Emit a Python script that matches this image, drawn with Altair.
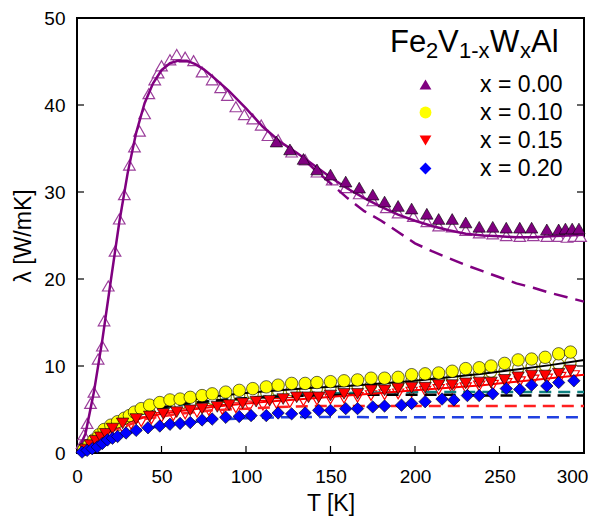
import altair as alt
import pandas as pd

# ---------------- data ----------------
series_names = ["x = 0.00", "x = 0.10", "x = 0.15", "x = 0.20"]
fill_colors = ["#800080", "#ffff00", "#ff0000", "#0000ff"]
shapes = ["triangle-up", "circle", "triangle-down", "diamond"]

# x = 0.00, open triangles (full range)
T_o00 = [3, 4, 6, 8, 10, 12.5, 15, 16, 18.5, 22.5, 25, 28, 31, 34, 37, 40, 42.5, 46, 48, 50,
         55, 59, 64, 69, 74, 80, 85, 89, 94, 99, 104, 109, 113, 119, 127, 135, 142, 151, 159,
         167, 175, 183, 190, 199, 207, 214, 222, 230, 238, 246, 254, 262, 270, 278, 285, 290, 294, 298]
L_o00 = [1.1, 2.1, 3.4, 5.7, 7.0, 10.8, 12.3, 15.2, 19.2, 23.2, 26.9, 29.7, 33.1, 35.2, 37.0,
         39.0, 41.3, 42.9, 43.7, 44.5, 45.2, 45.8, 45.5, 45.1, 43.8, 42.9, 42.0, 41.1, 39.8,
         38.9, 38.4, 37.7, 36.5, 36.0, 34.6, 33.7, 32.3, 31.4, 30.5, 29.8, 29.0, 28.2, 27.6,
         27.2, 26.6, 26.1, 26.0, 25.6, 25.3, 25.2, 25.0, 24.9, 25.0, 24.9, 24.9, 24.8, 24.9, 24.9]
# x = 0.00, filled triangles
T_f00 = [118, 126, 134, 142, 150, 159, 167, 175, 182, 190, 198, 207, 214, 222, 230, 238, 246,
         254, 262, 269, 278, 285, 289, 293, 297]
L_f00 = [35.8, 34.9, 33.8, 32.6, 32.0, 31.2, 30.5, 29.7, 28.9, 28.4, 28.1, 27.5, 26.9, 26.9,
         26.5, 26.0, 26.0, 25.9, 25.9, 25.9, 25.7, 25.7, 25.8, 25.8, 25.8]

# x = 0.10, filled circles
T_f10 = [4, 7, 10, 13, 16, 20, 24, 28, 31, 34, 38, 43, 49, 55, 61, 67, 74, 80, 88, 96, 104, 112,
         119, 127, 135, 142, 150, 158, 166, 174, 182, 190, 198, 206, 214, 222, 230, 238, 245,
         253, 261, 269, 277, 285, 292]
L_f10 = [0.4, 0.9, 1.5, 2.1, 2.7, 3.2, 3.6, 4.0, 4.3, 4.7, 5.1, 5.5, 5.8, 6.1, 6.2, 6.4, 6.6,
         6.8, 7.0, 7.2, 7.4, 7.6, 7.8, 8.0, 8.0, 8.1, 8.2, 8.3, 8.4, 8.6, 8.6, 8.7, 9.0, 9.1,
         9.2, 9.4, 9.7, 9.8, 10.0, 10.3, 10.7, 10.8, 11.0, 11.4, 11.6]
# x = 0.10, open circles
T_o10 = [20, 24, 28, 31, 34, 38, 43, 49, 55, 61, 67, 74, 80, 88, 96, 104, 112, 119, 127, 135,
         142, 150, 158, 166, 174, 182, 190, 198, 206, 214, 222, 230, 238, 245, 253, 261, 269,
         277, 285, 292]
L_o10 = [2.8, 3.2, 3.6, 3.9, 4.2, 4.5, 4.8, 5.1, 5.4, 5.6, 5.8, 6.0, 6.2, 6.4, 6.6, 6.8, 6.9,
         7.1, 7.2, 7.3, 7.4, 7.5, 7.6, 7.7, 7.8, 7.9, 8.0, 8.3, 8.4, 8.5, 8.7, 8.9, 9.1, 9.3,
         9.4, 9.7, 9.9, 10.0, 10.2, 10.4]

# x = 0.15, filled down-triangles
T_f15 = [5, 8, 11, 14, 17, 21, 27, 35, 43, 51, 59, 67, 74, 83, 90, 98, 106, 114, 122, 130, 137,
         143, 150, 158, 166, 174, 182, 190, 198, 206, 214, 222, 230, 238, 245, 253, 261, 269,
         277, 285, 292]
L_f15 = [0.4, 0.9, 1.4, 1.8, 2.2, 2.8, 3.4, 3.9, 4.2, 4.5, 4.7, 4.9, 5.1, 5.3, 5.5, 5.7, 5.9,
         6.0, 6.2, 6.4, 6.4, 6.4, 6.6, 6.8, 6.8, 7.2, 7.2, 7.4, 7.5, 7.5, 7.8, 7.8, 8.0, 8.1,
         8.1, 8.4, 8.7, 8.9, 8.9, 9.1, 9.5]
# x = 0.15, open down-triangles
T_o15 = [10, 14, 18, 22, 27, 32, 38, 44, 50, 57, 64, 71, 78, 86, 94, 102, 110, 118, 126, 134,
         142, 150, 158, 166, 174, 182, 190, 198, 206, 214, 222, 230, 238, 246, 254, 262, 270,
         278, 286, 294]
L_o15 = [1.0, 1.5, 2.0, 2.5, 2.9, 3.3, 3.6, 3.9, 4.1, 4.3, 4.5, 4.7, 4.9, 5.0, 5.2, 5.4, 5.5,
         5.7, 5.8, 6.0, 6.1, 6.2, 6.3, 6.4, 6.6, 6.7, 6.8, 7.0, 7.1, 7.3, 7.4, 7.5, 7.7, 7.8,
         8.0, 8.2, 8.4, 8.5, 8.7, 8.9]

# x = 0.20, filled diamonds
T_f20 = [3, 6, 9, 12, 15, 18, 21, 24, 29, 35, 42, 49, 55, 61, 67, 74, 80, 88, 96, 103, 112,
         119, 127, 135, 143, 150, 159, 166, 175, 182, 192, 198, 206, 216, 223, 231, 238, 246,
         254, 262, 269, 278, 285, 294]
L_f20 = [0.1, 0.3, 0.5, 0.7, 1.1, 1.5, 1.7, 1.9, 2.3, 2.6, 2.9, 3.1, 3.3, 3.4, 3.5, 3.8, 3.9,
         4.1, 4.2, 4.3, 4.3, 4.6, 4.5, 4.6, 4.9, 4.9, 5.1, 5.1, 5.3, 5.4, 5.5, 5.7, 5.9, 6.2,
         6.1, 6.6, 6.6, 6.8, 7.4, 7.3, 7.8, 7.7, 8.1, 8.3]

# model curves
T_fit00 = [0, 5, 10, 15, 20, 25, 30, 35, 40, 45, 50, 55, 60, 65, 70, 75, 80, 90, 100, 110, 120,
           130, 140, 150, 160, 170, 180, 190, 200, 210, 220, 230, 240, 250, 260, 270, 280, 290, 300]
L_fit00 = [0, 2.2, 7.0, 13.0, 19.8, 26.5, 32.2, 36.8, 40.2, 42.5, 44.0, 44.8, 45.1, 45.1, 44.7,
           44.1, 43.3, 41.6, 39.6, 37.5, 35.8, 34.5, 33.1, 31.7, 30.4, 29.3, 28.3, 27.4, 26.7,
           26.1, 25.6, 25.2, 25.0, 24.9, 24.8, 24.8, 24.9, 25.0, 25.1]
T_ph00 = [135, 140, 150, 160, 170, 180, 190, 200, 210, 220, 230, 240, 250, 260, 270, 280, 290, 300]
L_ph00 = [33.6, 32.7, 31.0, 29.3, 27.8, 26.7, 25.4, 24.1, 23.2, 22.4, 21.6, 20.9, 20.2, 19.5,
          19.0, 18.4, 17.9, 17.4]

T_fit10 = [0, 10, 20, 30, 40, 50, 60, 80, 100, 120, 140, 160, 180, 200, 220, 240, 260, 280, 300]
L_fit10 = [0, 1.3, 3.0, 4.2, 5.0, 5.6, 6.0, 6.5, 6.9, 7.2, 7.5, 7.7, 8.0, 8.3, 8.7, 9.1, 9.6, 10.1, 10.7]
T_ph10 = [0, 20, 40, 60, 80, 100, 120, 140, 160, 180, 200, 220, 240, 260, 280, 300]
L_ph10 = [0, 3.0, 4.8, 5.6, 6.0, 6.3, 6.5, 6.6, 6.7, 6.7, 6.7, 6.7, 6.6, 6.6, 6.6, 6.6]
T_tl10 = [0, 20, 40, 60, 80, 100, 120, 140, 160, 200, 250, 300]
L_tl10 = [0, 2.8, 4.6, 5.5, 6.0, 6.3, 6.6, 6.8, 6.9, 7.0, 7.0, 7.0]

T_fit15 = [0, 10, 20, 30, 40, 50, 60, 80, 100, 120, 140, 160, 180, 200, 220, 240, 260, 280, 300]
L_fit15 = [0, 1.2, 2.6, 3.5, 4.1, 4.5, 4.8, 5.3, 5.7, 6.0, 6.3, 6.6, 6.9, 7.2, 7.5, 7.8, 8.2, 8.6, 9.0]
T_ph15 = [0, 20, 40, 60, 80, 100, 120, 140, 200, 250, 300]
L_ph15 = [0, 2.5, 3.9, 4.5, 4.9, 5.1, 5.3, 5.4, 5.4, 5.4, 5.4]

T_ph20 = [0, 20, 40, 60, 80, 100, 120, 140, 200, 250, 300]
L_ph20 = [0, 1.7, 2.8, 3.4, 3.8, 4.0, 4.1, 4.15, 4.1, 4.1, 4.1]

x_ticks = [50, 100, 150, 200, 250]
y_ticks = [10, 20, 30, 40]

# ---------------- chart ----------------
W, H = 507, 435
PAD_T, PAD_L = 10, 69
TOTAL_W, TOTAL_H = 580, 511   # page area inside the 8px body margin
FONT = "Liberation Sans"

xs = alt.Scale(domain=[0, 300], nice=False)
ys = alt.Scale(domain=[0, 50], nice=False)


def df(T, L, name=None):
    d = pd.DataFrame({"T": T, "lam": L})
    if name is not None:
        d["series"] = name
    return d


def open_layer(T, L, shape, edge, size):
    return alt.Chart(df(T, L)).mark_point(
        shape=shape, filled=True, fill="white", stroke=edge, strokeWidth=1.2,
        size=size, opacity=1
    ).encode(x=alt.X("T:Q", scale=xs), y=alt.Y("lam:Q", scale=ys))


def line_layer(T, L, color, dash=None, width=2.5):
    kw = dict(color=color, strokeWidth=width)
    if dash:
        kw["strokeDash"] = dash
    return alt.Chart(df(T, L)).mark_line(**kw).encode(
        x=alt.X("T:Q", scale=xs), y=alt.Y("lam:Q", scale=ys))


base_x = alt.X("T:Q", scale=xs, title="T [K]",
               axis=alt.Axis(values=[0, 50, 100, 150, 200, 250, 300], format="d",
                             labelFlush=False,
                             labelOffset={"condition": {"test": "datum.value == 300", "value": -12},
                                          "value": 0}))
base_y = alt.Y("lam:Q", scale=ys, title="λ [W/mK]",
               axis=alt.Axis(values=[0, 10, 20, 30, 40, 50], format="d", labelFlush=False))

# axis holder (invisible)
axis_layer = alt.Chart(df([0, 300], [0, 50])).mark_point(opacity=0).encode(x=base_x, y=base_y)

opens = [
    open_layer(T_o00, L_o00, "triangle-up", "#9b3f9b", 135),
    open_layer(T_o10, L_o10, "circle", "#8a8a00", 125),
    open_layer(T_o15, L_o15, "triangle-down", "#ff0000", 125),
]

lines = [
    line_layer(T_tl10, L_tl10, "#0f8080", [12, 7], 2.5),
    line_layer(T_ph10, L_ph10, "#000000", [12, 7], 2.5),
    line_layer(T_fit10, L_fit10, "#000000", None, 2),
    line_layer(T_ph15, L_ph15, "#ff2020", [12, 7], 2.5),
    line_layer(T_fit15, L_fit15, "#ff0000", None, 2),
    line_layer(T_ph20, L_ph20, "#2040e0", [12, 7], 2.5),
    line_layer(T_fit00, L_fit00, "#800080", None, 2.5),
    line_layer(T_ph00, L_ph00, "#800080", [14, 8], 2.5),
]

filled_df = pd.concat([
    df(T_f00, L_f00, series_names[0]),
    df(T_f10, L_f10, series_names[1]),
    df(T_f15, L_f15, series_names[2]),
    df(T_f20, L_f20, series_names[3]),
])
leg = alt.Legend(title=None, orient="none", legendX=337, legendY=55,
                 labelFontSize=23, labelFont=FONT, labelColor="black",
                 labelOffset=43, symbolSize=140, rowPadding=4,
                 symbolStrokeColor="black", symbolStrokeWidth=0.6)
filled = alt.Chart(filled_df).mark_point(
    filled=True, stroke="black", strokeWidth=0.6, size=155, opacity=1
).encode(
    x=alt.X("T:Q", scale=xs), y=alt.Y("lam:Q", scale=ys),
    fill=alt.Fill("series:N", scale=alt.Scale(domain=series_names, range=fill_colors), legend=leg),
    shape=alt.Shape("series:N", scale=alt.Scale(domain=series_names, range=shapes), legend=leg),
)

# inward tick marks
xt = pd.DataFrame({"T": x_ticks})
yt = pd.DataFrame({"lam": y_ticks})
ticks = [
    alt.Chart(xt).mark_rule(color="black", strokeWidth=1.2).encode(
        x=alt.X("T:Q", scale=xs), y=alt.value(H), y2=alt.value(H - 7)),
    alt.Chart(yt).mark_rule(color="black", strokeWidth=1.2).encode(
        y=alt.Y("lam:Q", scale=ys), x=alt.value(0), x2=alt.value(7)),
    alt.Chart(yt).mark_rule(color="black", strokeWidth=1.2).encode(
        y=alt.Y("lam:Q", scale=ys), x=alt.value(W), x2=alt.value(W - 7)),
]

# legend heading Fe2V1-xWxAl with subscripts
title_parts = [("Fe", 313, 0), ("2", 349, 1), ("V", 361, 0), ("1-x", 382, 1),
               ("W", 413, 0), ("x", 443, 1), ("Al", 454, 0)]
heading = []
for txt, px, sub in title_parts:
    heading.append(
        alt.Chart(pd.DataFrame({"t": [txt]})).mark_text(
            align="left", baseline="alphabetic", font=FONT,
            fontSize=22 if sub else 31, color="black"
        ).encode(text="t:N", x=alt.value(px), y=alt.value(40 if sub else 34))
    )

chart = alt.layer(axis_layer, *opens, *lines, filled, *ticks, *heading).properties(
    width=W, height=H,
    autosize=alt.AutoSizeParams(type="none"),
    padding={"left": PAD_L, "top": PAD_T, "right": TOTAL_W - PAD_L - W,
             "bottom": TOTAL_H - PAD_T - H},
).configure_view(stroke="black", strokeWidth=2).configure_axis(
    grid=False, ticks=False, domain=False,
    labelFont=FONT, labelFontSize=19, labelColor="black",
    titleFont=FONT, titleFontSize=23, titleColor="black", titleFontWeight="normal",
).configure_axisX(labelPadding=14, titlePadding=6).configure_axisY(
    labelPadding=12, titlePadding=8)

chart.save("out.html", embed_options={"renderer": "svg", "actions": False})
